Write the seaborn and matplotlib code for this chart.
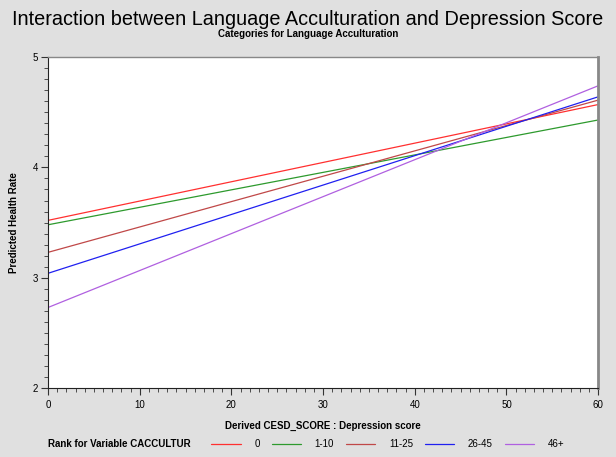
import pandas as pd
import matplotlib
matplotlib.use("Agg")
import matplotlib.pyplot as plt
import seaborn as sns
from matplotlib.ticker import MultipleLocator

# values: predicted health rate at CESD score 0 and 60
cesd = [0, 60]
groups = ["0", "1-10", "11-25", "26-45", "46+"]
start_vals = [3.52, 3.48, 3.23, 3.04, 2.73]
end_vals = [4.57, 4.43, 4.61, 4.64, 4.74]
colors = ["#FF3030", "#2E9A2E", "#C04848", "#2020F0", "#B060E0"]

rows = []
for g, a, b in zip(groups, start_vals, end_vals):
    rows.append({"cesd": cesd[0], "rate": a, "group": g})
    rows.append({"cesd": cesd[1], "rate": b, "group": g})
df = pd.DataFrame(rows)

sns.set_style("white")
plt.rcParams["font.family"] = ["Liberation Sans", "DejaVu Sans"]
plt.rcParams["text.color"] = "black"
plt.rcParams["axes.labelcolor"] = "black"
plt.rcParams["xtick.color"] = "black"
plt.rcParams["ytick.color"] = "black"

fig = plt.figure(figsize=(6.16, 4.57), dpi=100, facecolor="#E0E0E0")
ax = fig.add_axes([0.078, 0.151, 0.893, 0.724])
ax.set_facecolor("white")

sns.lineplot(data=df, x="cesd", y="rate", hue="group", hue_order=groups,
             palette=colors, linewidth=0.9, ax=ax, legend=False)

ax.set_xlim(0, 60)
ax.set_ylim(2, 5)
ax.xaxis.set_major_locator(MultipleLocator(10))
ax.xaxis.set_minor_locator(MultipleLocator(1))
ax.yaxis.set_major_locator(MultipleLocator(1))
ax.yaxis.set_minor_locator(MultipleLocator(0.1))
ax.tick_params(axis="both", which="major", length=5, width=0.8, labelsize=7, color="#333333")
ax.tick_params(axis="both", which="minor", length=3, width=0.6, color="#333333")
ax.tick_params(left=True, bottom=True, which="both")
ax.tick_params(axis="y", pad=2)

for s in ["left", "bottom"]:
    ax.spines[s].set_color("#222222")
    ax.spines[s].set_linewidth(0.8)
ax.spines["top"].set_color("#888888")
ax.spines["top"].set_linewidth(1.0)
ax.spines["right"].set_color("#888888")
ax.spines["right"].set_linewidth(2.0)

ax.set_xlabel("Derived CESD_SCORE : Depression score", fontsize=7, fontweight="bold", labelpad=8)
ax.set_ylabel("Predicted Health Rate", fontsize=7, fontweight="bold", labelpad=10)

fig.text(0.5, 0.958, "Interaction between Language Acculturation and Depression Score",
         ha="center", va="center", fontsize=14.3)
fig.text(0.5, 0.925, "Categories for Language Acculturation",
         ha="center", va="center", fontsize=7, fontweight="bold")

handles = [plt.Line2D([], [], color=c, linewidth=0.9) for c in colors]
fig.text(0.078, 0.028, "Rank for Variable CACCULTUR", ha="left", va="center",
         fontsize=7, fontweight="bold")
fig.legend(handles, groups, loc="center left", bbox_to_anchor=(0.337, 0.028), ncol=5,
           frameon=False, fontsize=7, handlelength=3.0, handletextpad=1.4,
           columnspacing=1.25, borderaxespad=0)

fig.savefig("out.png", dpi=100, facecolor=fig.get_facecolor())
